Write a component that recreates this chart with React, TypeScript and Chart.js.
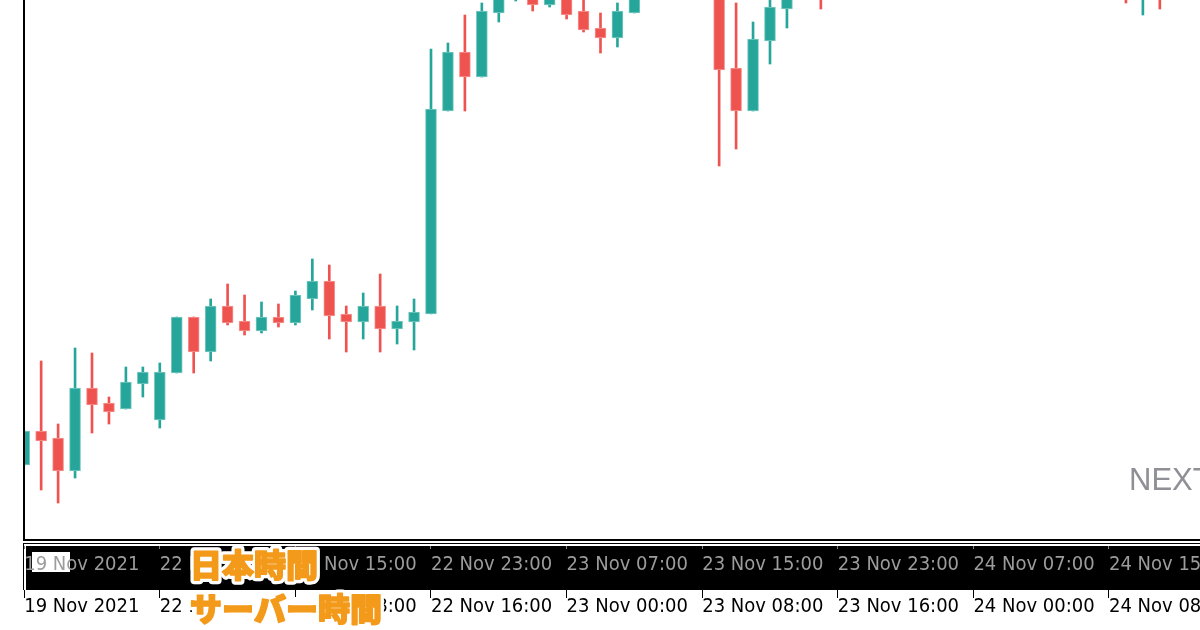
import React, { useEffect, useRef } from 'react';
import { Chart, registerables } from 'chart.js';

Chart.register(...registerables);

// Hourly candles (server time). Index 0 = 19 Nov 2021 16:00 (server).
// Values are in chart points; null = candle wholly above the visible window.
const opens: (number | null)[] = [
  75, 109, 102, 69, 152, 137, 131, 156, 120, 167,
  223, 188, 234, 219, 209, 223, 217, 241, 259, 226,
  218, 234, 211, 218, 226, 429, 488, 463, 527, 545,
  552, 535, 548, 529, 512, 502, 527, null, null, null,
  null, 560, 472, 429, 499, 531, null, 560, null, null,
  null, null, null, null, null, null, null, null, null, null,
  null, null, null, null, null, 556, 545, 555, null, null,
];
const highs: (number | null)[] = [
  109, 179, 116, 192, 187, 143, 173, 173, 177, 223,
  223, 241, 256, 245, 238, 236, 249, 281, 275, 234,
  247, 266, 234, 241, 491, 497, 525, 537, 556, 566,
  560, 556, 554, 545, 527, 537, 560, null, null, null,
  null, 568, 537, 518, 548, 560, null, 566, null, null,
  null, null, null, null, null, null, null, null, null, null,
  null, null, null, null, null, 562, 565, 560, null, null,
];
const lows: (number | null)[] = [
  75, 50, 37, 62, 107, 116, 131, 143, 112, 167,
  167, 179, 215, 205, 207, 213, 215, 230, 201, 188,
  201, 188, 196, 190, 226, 429, 429, 463, 518, 539,
  529, 533, 521, 508, 487, 493, 527, null, null, null,
  null, 374, 391, 429, 476, 512, null, 531, null, null,
  null, null, null, null, null, null, null, null, null, null,
  null, null, null, null, null, 537, 525, 531, null, null,
];
const closes: (number | null)[] = [
  109, 99, 69, 152, 135, 128, 158, 168, 168, 223,
  188, 234, 217, 209, 223, 217, 245, 259, 224, 218,
  234, 211, 219, 228, 431, 488, 463, 529, 548, 560,
  535, 550, 525, 510, 502, 529, 552, null, null, null,
  null, 470, 429, 501, 533, 552, null, 545, null, null,
  null, null, null, null, null, null, null, null, null, null,
  null, null, null, null, null, 546, 558, 544, null, null,
];

const tickIndex = [0, 8, 16, 24, 32, 40, 48, 56, 64];
const jstLabels = [
  '19 Nov 2021', '22 Nov 07:00', '22 Nov 15:00', '22 Nov 23:00', '23 Nov 07:00',
  '23 Nov 15:00', '23 Nov 23:00', '24 Nov 07:00', '24 Nov 15:00',
];
const serverLabels = [
  '19 Nov 2021', '22 Nov 00:00', '22 Nov 08:00', '22 Nov 16:00', '23 Nov 00:00',
  '23 Nov 08:00', '23 Nov 16:00', '24 Nov 00:00', '24 Nov 08:00',
];
const jstTitle = '日本時間';
const serverTitle = 'サーバー時間';
const watermark = 'NEXT';

const UP = '#26a69a';
const DOWN = '#ef5350';
const UP_EDGE = '#7dcac2';
const DOWN_EDGE = '#f59896';
const ORANGE = '#f39a1b';
const LABEL_FONT = "'Liberation Sans Narrow', 'DejaVu Sans Condensed', 'Liberation Sans', sans-serif";

const X_MIN = -0.012;
const X_MAX = 69.37;

const decorPlugin = {
  id: 'decor',
  beforeDraw(chart: any) {
    const { ctx, width, height } = chart;
    ctx.save();
    ctx.fillStyle = '#ffffff';
    ctx.fillRect(0, 0, width, height);
    // time-axis band
    ctx.fillStyle = '#000000';
    ctx.fillRect(23, 543, width - 23, 47);
    ctx.fillStyle = '#ffffff';
    ctx.fillRect(24, 544, width - 24, 2);
    ctx.fillRect(24, 544, 2, 46);
    ctx.fillRect(32, 552, 38, 20);
    ctx.restore();
  },
  afterDraw(chart: any) {
    const { ctx } = chart;
    ctx.save();
    // white patch behind the server-time caption
    ctx.fillStyle = '#ffffff';
    ctx.fillRect(194, 597, 186, 25);
    ctx.font = "900 32px 'Noto Sans CJK JP'";
    ctx.textAlign = 'left';
    ctx.textBaseline = 'middle';
    ctx.lineJoin = 'round';
    const items: [string, number, number][] = [
      [jstTitle, 190, 565],
      [serverTitle, 190, 609],
    ];
    for (const [t, x, y] of items) {
      ctx.lineWidth = 8;
      ctx.strokeStyle = '#ffffff';
      ctx.strokeText(t, x, y);
    }
    for (const [t, x, y] of items) {
      ctx.fillStyle = ORANGE;
      ctx.fillText(t, x, y);
      ctx.lineWidth = 1.6;
      ctx.strokeStyle = ORANGE;
      ctx.strokeText(t, x, y);
    }
    ctx.font = "31px 'Liberation Sans'";
    ctx.textBaseline = 'alphabetic';
    ctx.fillStyle = '#8f8f96';
    ctx.fillText(watermark, 1129, 490);
    ctx.restore();
  },
};

export default function App() {
  const ref = useRef<HTMLCanvasElement>(null);

  useEffect(() => {
    const idx: number[] = [];
    for (let i = 0; i < opens.length; i++) if (opens[i] != null) idx.push(i);
    const bodyData = idx.map((i) => ({ x: i, y: [opens[i] as number, closes[i] as number] }));
    const wickData = idx.map((i) => ({ x: i, y: [lows[i] as number, highs[i] as number] }));
    const isUp = idx.map((i) => (closes[i] as number) >= (opens[i] as number));
    const fill = isUp.map((u) => (u ? UP : DOWN));
    const edge = isUp.map((u) => (u ? UP_EDGE : DOWN_EDGE));

    const setTicks = (s: any) => {
      s.ticks = tickIndex.map((v) => ({ value: v }));
    };

    const chart = new Chart(ref.current as HTMLCanvasElement, {
      type: 'bar',
      data: {
        datasets: [
          {
            label: 'body',
            data: bodyData as any,
            backgroundColor: fill,
            borderColor: edge,
            borderWidth: 1,
            borderSkipped: false,
            barThickness: 11,
            grouped: false,
            clip: 0,
            order: 0,
          } as any,
          {
            label: 'wick',
            data: wickData as any,
            backgroundColor: fill,
            borderWidth: 0,
            barThickness: 2,
            grouped: false,
            clip: 0,
            order: 1,
          } as any,
        ],
      },
      options: {
        animation: false,
        responsive: false,
        devicePixelRatio: 1,
        events: [],
        layout: { padding: 0 },
        plugins: { legend: { display: false }, tooltip: { enabled: false } },
        scales: {
          x: {
            type: 'linear',
            position: 'bottom',
            weight: 1,
            offset: false,
            bounds: 'data',
            min: X_MIN,
            max: X_MAX,
            afterBuildTicks: setTicks,
            afterFit: (s: any) => {
              s.height = 50;
              s.paddingLeft = 0;
              s.paddingRight = 0;
            },
            grid: {
              offset: false,
              drawOnChartArea: false,
              drawTicks: true,
              tickLength: 9,
              tickColor: '#808080',
              tickWidth: 1,
              tickBorderDash: [0, 5, 3, 10],
            },
            border: { display: true, color: '#000000', width: 2 },
            ticks: {
              autoSkip: false,
              maxRotation: 0,
              minRotation: 0,
              align: 'start',
              padding: 6,
              color: '#9c9c9c',
              font: { family: LABEL_FONT, size: 20, lineHeight: 1 },
              callback: (_v: any, i: number) => jstLabels[i],
            },
          } as any,
          x2: {
            type: 'linear',
            position: 'bottom',
            weight: 2,
            offset: false,
            bounds: 'data',
            min: X_MIN,
            max: X_MAX,
            afterBuildTicks: setTicks,
            afterFit: (s: any) => {
              s.height = 40;
              s.paddingLeft = 0;
              s.paddingRight = 0;
            },
            grid: {
              offset: false,
              drawOnChartArea: false,
              drawTicks: true,
              tickLength: 8,
              tickColor: '#000000',
              tickWidth: 1,
            },
            border: { display: false },
            ticks: {
              autoSkip: false,
              maxRotation: 0,
              minRotation: 0,
              align: 'start',
              padding: -1,
              color: '#000000',
              font: { family: LABEL_FONT, size: 20, lineHeight: 1 },
              callback: (_v: any, i: number) => serverLabels[i],
            },
          } as any,
          y: {
            type: 'linear',
            position: 'left',
            min: 0,
            max: 540,
            afterFit: (s: any) => {
              s.width = 24;
            },
            grid: { display: false, drawTicks: false },
            border: { display: true, color: '#000000', width: 2, z: 1 },
            ticks: { display: false },
          } as any,
        },
      },
      plugins: [decorPlugin],
    });
    return () => chart.destroy();
  }, []);

  return (
    <div
      style={{
        position: 'fixed',
        left: 0,
        top: 0,
        width: 1200,
        height: 630,
        background: '#ffffff',
        overflow: 'hidden',
      }}
    >
      <canvas ref={ref} width={1200} height={630} style={{ display: 'block', width: 1200, height: 630 }} />
    </div>
  );
}
